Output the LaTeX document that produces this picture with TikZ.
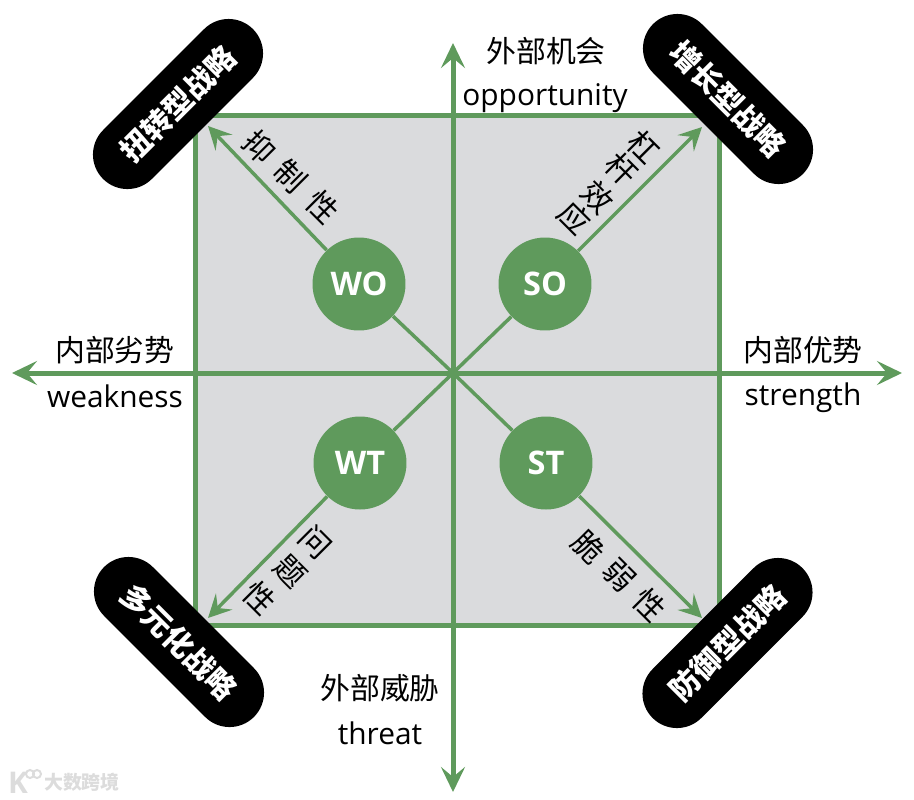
\documentclass[tikz,border=0pt]{standalone}
\usepackage{fontspec}
\setmainfont{Open Sans}
\newfontfamily\cjk{Noto Sans CJK SC}
\usepackage{xcolor}
\usetikzlibrary{arrows.meta,shapes.misc}
\definecolor{swotgreen}{HTML}{5F9A5C}
\definecolor{quadgray}{HTML}{DADBDD}
\definecolor{markgray}{HTML}{DCDCDC}
\tikzset{
  axisline/.style={swotgreen,line width=0.1cm,{Stealth[length=0.5cm,width=0.48cm,inset=0.2cm]}-{Stealth[length=0.5cm,width=0.48cm,inset=0.2cm]}},
  diagline/.style={swotgreen,line width=0.07cm},
  diagarrow/.style={diagline,-{Stealth[length=0.46cm,width=0.46cm,inset=0.18cm]}},
  quadbox/.style={draw=swotgreen,fill=quadgray,line width=0.1cm,inner sep=0pt,minimum width=10.5cm,minimum height=10.22cm},
  swotdot/.style={circle,fill=swotgreen,text=white,minimum size=1.86cm,inner sep=0pt,font=\bfseries\fontsize{18.5}{20}\selectfont},
  stratpill/.style={rounded rectangle,fill=black,text=white,minimum width=4.24cm,minimum height=1.38cm,inner sep=0pt,font=\cjk\bfseries\fontsize{17}{19}\selectfont},
  axiscn/.style={font=\cjk\fontsize{17}{19}\selectfont,inner sep=0pt},
  axisen/.style={font=\fontsize{17}{19}\selectfont,inner sep=0pt},
  tiltcn/.style={font=\cjk\fontsize{17.5}{19}\selectfont,inner sep=0pt,rotate=-45},
}
\begin{document}
\begin{tikzpicture}[x=0.02cm,y=-0.02cm]
  \useasboundingbox (0,0) rectangle (914,799);
  % Square
  \node[quadbox] (quad) at (457.5,370.5) {};
  % Axes
  \coordinate (west) at (12,373);
  \coordinate (east) at (902,373);
  \coordinate (north) at (453,43);
  \coordinate (south) at (453,792);
  \draw[axisline] (west) -- (east);
  \draw[axisline] (south) -- (north);
  % Circles
  \coordinate (mid) at (453,373);
  \node[swotdot] (wo) at (359,284) {WO};
  \node[swotdot] (so) at (545,284) {SO};
  \node[swotdot] (wt) at (360,463) {WT};
  \node[swotdot] (st) at (546,463) {ST};
  % Diagonals
  \coordinate (tipwo) at (208,126);
  \coordinate (tipso) at (702,127);
  \coordinate (tipwt) at (208,618);
  \coordinate (tipst) at (702,618);
  \foreach \dot in {wo,so,wt,st} {
    \draw[diagline] (mid) -- (\dot);
    \draw[diagarrow] (\dot) -- (tip\dot);
  }
  % Strategy pills
  \node[stratpill,rotate=45] (turnpill) at (178,104) {扭转型战略};
  \node[stratpill,rotate=-45] (growpill) at (728,99) {增长型战略};
  \node[stratpill,rotate=-45] (diverpill) at (179,642) {多元化战略};
  \node[stratpill,rotate=45] (defpill) at (727.5,643) {防御型战略};
  % Axis labels
  \node[axiscn] (opcn) at (546,51) {外部机会};
  \node[axisen] (open) at (545,98) {opportunity};
  \node[axiscn] (wkcn) at (115,350) {内部劣势};
  \node[axisen] (wken) at (115,396) {weakness};
  \node[axiscn] (stcn) at (803,350) {内部优势};
  \node[axisen] (sten) at (803,398) {strength};
  \node[axiscn] (thcn) at (380,688) {外部威胁};
  \node[axisen] (then) at (380,733) {threat};
  % Tilted labels, one character at a time
  \foreach \ch/\px/\py/\nm in {抑/260/147/a,制/291/176/b,性/323/207/c,
      杠/644/147/d,杆/622/169/e,效/598/197/f,应/575/218/g,
      问/315/542/h,题/290/572/i,性/260/598/j,
      脆/589/547/k,弱/619/575/l,性/650/605/m} {
    \node[tiltcn] (tilt\nm) at (\px,\py) {\ch};
  }
  % Watermark
  \node[font=\bfseries\fontsize{17}{18}\selectfont,text=markgray,inner sep=0pt] (markk) at (18,783) {K};
  \node[circle,draw=markgray,line width=0.04cm,minimum size=0.16cm,inner sep=0pt] (markp) at (30,774) {};
  \node[circle,draw=markgray,line width=0.04cm,minimum size=0.16cm,inner sep=0pt] (markq) at (37,774) {};
  \node[font=\cjk\bfseries\fontsize{10.8}{12}\selectfont,text=markgray,inner sep=0pt] (marktext) at (82,782) {大数跨境};
\end{tikzpicture}
\end{document}
